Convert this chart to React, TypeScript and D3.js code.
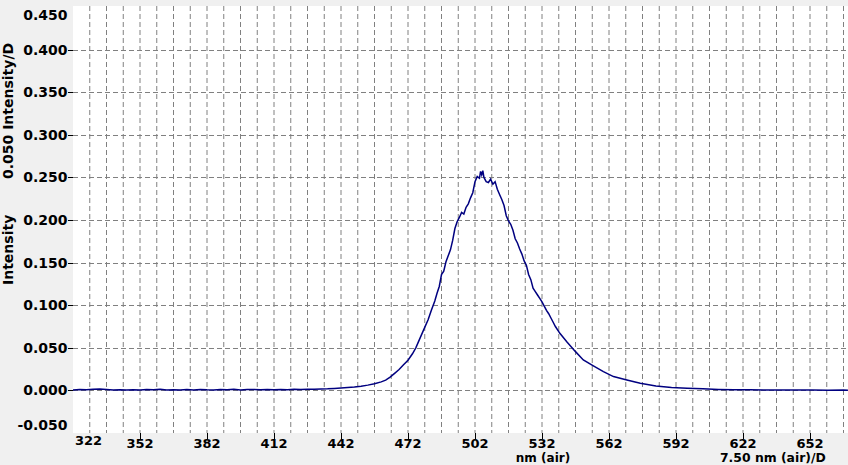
import React from "react";
import * as d3 from "d3";

// wavelength (nm, air)
const wavelengths: number[] = [
  322, 325, 328, 331, 334, 337, 340, 343, 346, 349, 352, 355, 358, 361, 364, 367, 370, 373, 376, 379,
  382, 385, 388, 391, 394, 397, 400, 403, 406, 409, 412, 415, 418, 421, 424, 427, 430, 433, 436, 439,
  442, 445, 448, 451, 454, 457, 460, 462, 464, 466, 468, 470, 472, 474, 475.5, 477, 479, 481, 482.5, 484,
  485, 486, 487, 488, 489, 490, 491, 492, 493, 494, 495, 496, 497, 498, 499, 500, 501, 502, 503, 504,
  504.5, 505, 505.5, 506, 507, 508, 509, 510, 511, 512, 513, 514, 515, 516, 517, 518, 519, 520, 521, 522,
  523, 524, 525, 526, 527, 528, 529, 530, 531, 532, 533, 534, 535, 536, 537, 538, 540, 543, 547, 550.5,
  555, 559.5, 564, 570, 576, 583, 590, 597, 604, 611, 618, 625, 632, 639, 646, 653, 660, 667, 669,
];

// intensity
const intensities: number[] = [
  0.0005, 0.0010, 0.0007, 0.0014, 0.0015, 0.0012, 0.0006, 0.0009, 0.0004, 0.0008, 0.0005, 0.0011, 0.0007, 0.0013, 0.0006, 0.0009, 0.0004, 0.0010, 0.0006, 0.0012,
  0.0007, 0.0005, 0.0011, 0.0008, 0.0013, 0.0006, 0.0010, 0.0012, 0.0007, 0.0011, 0.0008, 0.0012, 0.0009, 0.0013, 0.0010, 0.0014, 0.0013, 0.0017, 0.0018, 0.0022,
  0.0027, 0.0033, 0.0040, 0.0050, 0.0062, 0.0078, 0.0100, 0.0120, 0.0155, 0.0200, 0.0245, 0.0300, 0.0355, 0.0430, 0.0500, 0.0590, 0.0710, 0.0830, 0.0945, 0.1050,
  0.1140, 0.1220, 0.1360, 0.1400, 0.1510, 0.1580, 0.1650, 0.1760, 0.1900, 0.1980, 0.2030, 0.2090, 0.2070, 0.2150, 0.2190, 0.2260, 0.2320, 0.2450, 0.2510, 0.2490,
  0.2570, 0.2530, 0.2580, 0.2500, 0.2450, 0.2440, 0.2480, 0.2420, 0.2450, 0.2360, 0.2300, 0.2240, 0.2170, 0.2050, 0.1990, 0.1950, 0.1880, 0.1780, 0.1730, 0.1660,
  0.1600, 0.1520, 0.1470, 0.1360, 0.1300, 0.1200, 0.1160, 0.1120, 0.1080, 0.1040, 0.0990, 0.0940, 0.0900, 0.0850, 0.0800, 0.0750, 0.0670, 0.0573, 0.0455, 0.0358,
  0.0288, 0.0220, 0.0162, 0.0123, 0.0085, 0.0053, 0.0035, 0.0025, 0.0018, 0.0012, 0.0009, 0.0007, 0.0005, 0.0006, 0.0004, 0.0005, 0.0003, 0.0004, 0.0003,
];

const xTickValues: number[] = [352, 382, 412, 442, 472, 502, 532, 562, 592, 622, 652];
const yTickValues: number[] = [0.0, 0.05, 0.1, 0.15, 0.2, 0.25, 0.3, 0.35, 0.4];
const yEdgeLabels: { v: number; text: string }[] = [
  { v: 0.45, text: "0.450" },
  { v: -0.05, text: "-0.050" },
];

const W = 848;
const H = 465;
const left = 73;
const right = 848;
const top = 7;
const bottom = 433;
const font = "'DejaVu Sans', Verdana, sans-serif";

export default function App() {
  const x = d3.scaleLinear().domain([322, 322 + ((right - left) * 30) / 67]).range([left, right]);
  const y = d3.scaleLinear().domain([-0.05, 0.45]).range([bottom, top]);

  const minorX = d3.range(1, 47).map((k) => 322 + 7.5 * k).filter((v) => x(v) < right - 1);
  const pts = wavelengths.map((w, i) => [w, intensities[i]] as [number, number]);
  const line = d3
    .line<[number, number]>()
    .x((d) => x(d[0]))
    .y((d) => y(d[1]));

  return (
    <svg width={W} height={H} style={{ position: "absolute", left: 0, top: 0 }} fontFamily={font}>
      <rect x={0} y={0} width={W} height={H} fill="#f0f0f0" />
      <rect x={left} y={top - 1} width={right - left} height={bottom - top + 1} fill="#ffffff" />
      {minorX.map((v) => (
        <line key={"vx" + v} x1={x(v)} x2={x(v)} y1={top - 1} y2={bottom} stroke="#808080" strokeDasharray="5,3" />
      ))}
      {yTickValues.map((v) => (
        <line key={"hy" + v} x1={left} x2={right} y1={Math.round(y(v)) + 0.5} y2={Math.round(y(v)) + 0.5} stroke="#808080" strokeDasharray="5,3" />
      ))}
      {yTickValues.map((v) => (
        <line key={"ty" + v} x1={left - 5} x2={left} y1={Math.round(y(v)) + 0.5} y2={Math.round(y(v)) + 0.5} stroke="#000" />
      ))}
      {xTickValues.map((v) => (
        <line key={"tx" + v} x1={Math.round(x(v)) + 0.5} x2={Math.round(x(v)) + 0.5} y1={bottom} y2={bottom + 6} stroke="#000" />
      ))}
      <path d={line(pts) || ""} fill="none" stroke="#000080" strokeWidth={1.5} />
      {yTickValues.map((v) => (
        <text key={"ly" + v} x={67.5} y={y(v)} dy="0.36em" textAnchor="end" fontSize={14} fontWeight="bold" fill="#000">
          {v.toFixed(3)}
        </text>
      ))}
      {yEdgeLabels.map((e) => (
        <text key={"le" + e.text} x={67.5} y={e.v > 0 ? 15 : 425} dy="0.36em" textAnchor="end" fontSize={14} fontWeight="bold" fill="#000">
          {e.text}
        </text>
      ))}
      {xTickValues.map((v) => (
        <text key={"lx" + v} x={x(v)} y={448} textAnchor="middle" fontSize={13} fontWeight="bold" fill="#000">
          {v}
        </text>
      ))}
      <text x={88.5} y={445} textAnchor="middle" fontSize={13} fontWeight="bold" fill="#000">322</text>
      <text x={543} y={462.2} textAnchor="middle" fontSize={12} fontWeight="bold" fill="#000">nm (air)</text>
      <text x={720} y={462.2} textAnchor="start" fontSize={12.4} fontWeight="bold" fill="#000">7.50 nm (air)/D</text>
      <text transform="translate(13,285) rotate(-90)" fontSize={14} fontWeight="bold" fill="#000">Intensity</text>
      <text transform="translate(13,179) rotate(-90)" fontSize={14} fontWeight="bold" fill="#000">0.050 Intensity/D</text>
    </svg>
  );
}
